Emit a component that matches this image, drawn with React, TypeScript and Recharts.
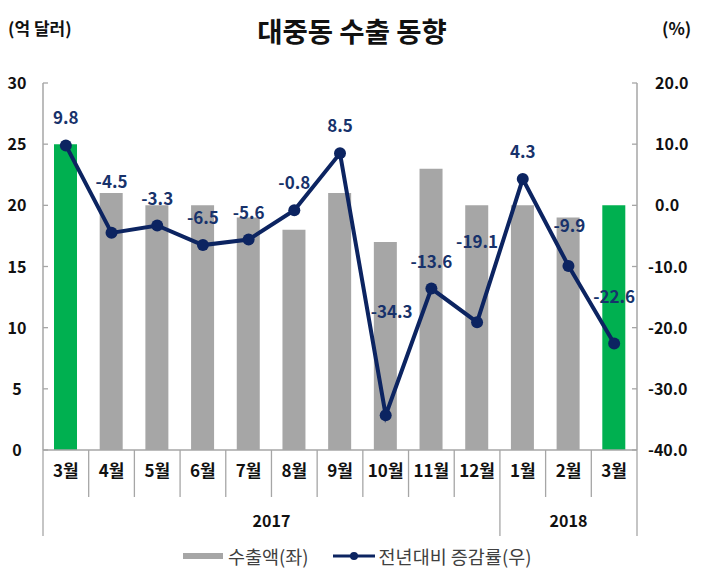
import { Bar, Cell, ComposedChart, LabelList, Line, XAxis, YAxis } from "recharts";

const months = ["3월", "4월", "5월", "6월", "7월", "8월", "9월", "10월", "11월", "12월", "1월", "2월", "3월"];
const yearLabels = ["2017", "2018"];
const yearSpans = [10, 3];
const exportValues = [25, 21, 20, 20, 19, 18, 21, 17, 23, 20, 20, 19, 20];
const growthRates = [9.8, -4.5, -3.3, -6.5, -5.6, -0.8, 8.5, -34.3, -13.6, -19.1, 4.3, -9.9, -22.6];
const highlighted = [0, 12];
const leftTicks = [0, 5, 10, 15, 20, 25, 30];
const rightTicks = [-40, -30, -20, -10, 0, 10, 20];

const data = months.map((month, i) => ({
  month,
  exports: exportValues[i],
  growth: growthRates[i],
}));

const FONT = "'Noto Sans CJK KR', 'Noto Sans', sans-serif";
const AXIS_GRAY = "#A6A6A6";
const BAR_GRAY = "#A6A6A6";
const GREEN = "#00B050";
const NAVY = "#0C2461";
const LABEL_NAVY = "#17326B";
const PLOT_LEFT = 43;
const PLOT_RIGHT = 637;
const STEP = (PLOT_RIGHT - PLOT_LEFT) / months.length;

// label nudges where the default "above" spot collides with the line
const labelNudge: Record<number, [number, number]> = {
  1: [0, -51],
  7: [6, -103],
  9: [0, -80],
  11: [1, -40],
  12: [0, -47],
};

function GrowthLabel(props: any) {
  const { x, y, value, index } = props;
  const [dx, dy] = labelNudge[index] ?? [0, -27];
  return (
    <text
      x={x + dx}
      y={y + dy}
      dy={6}
      textAnchor="middle"
      fontFamily={FONT}
      fontWeight={700}
      fontSize={17}
      fill={LABEL_NAVY}
    >
      {Number(value).toFixed(1)}
    </text>
  );
}

function MonthTick(props: any) {
  const { x, y, payload, index } = props;
  const left = x - STEP / 2;
  const yearStarts: number[] = [];
  yearSpans.reduce((acc, span) => {
    yearStarts.push(acc);
    return acc + span;
  }, 0);
  const yearIdx = yearStarts.indexOf(index);
  const isLast = index === months.length - 1;
  return (
    <g>
      <text
        x={x}
        y={y + 27}
        textAnchor="middle"
        fontFamily={FONT}
        fontWeight={700}
        fontSize={17}
        fill="#111"
      >
        {payload.value}
      </text>
      <line
        x1={left}
        x2={left}
        y1={y}
        y2={y + (yearIdx >= 0 ? 86 : 47)}
        stroke={AXIS_GRAY}
        strokeWidth={1.3}
      />
      {isLast && (
        <line x1={x + STEP / 2} x2={x + STEP / 2} y1={y} y2={y + 86} stroke={AXIS_GRAY} strokeWidth={1.3} />
      )}
      {yearIdx >= 0 && (
        <text
          x={left + (yearSpans[yearIdx] * STEP) / 2}
          y={y + 77}
          textAnchor="middle"
          fontFamily={FONT}
          fontWeight={700}
          fontSize={16}
          fill="#111"
        >
          {yearLabels[yearIdx]}
        </text>
      )}
    </g>
  );
}

function LeftTick(props: any) {
  const { y, payload } = props;
  return (
    <g>
      <line x1={PLOT_LEFT} x2={PLOT_LEFT + 5} y1={y} y2={y} stroke={AXIS_GRAY} strokeWidth={1.3} />
      <text x={17} y={y} dy={6} textAnchor="middle" fontFamily={FONT} fontWeight={700} fontSize={16} fill="#111">
        {payload.value}
      </text>
    </g>
  );
}

function RightTick(props: any) {
  const { y, payload } = props;
  const v = Number(payload.value);
  return (
    <g>
      <line x1={PLOT_RIGHT - 5} x2={PLOT_RIGHT} y1={y} y2={y} stroke={AXIS_GRAY} strokeWidth={1.3} />
      <text x={v < 0 ? 648 : 655} y={y} dy={6} textAnchor="start" fontFamily={FONT} fontWeight={700} fontSize={16} fill="#111">
        {v.toFixed(1)}
      </text>
    </g>
  );
}

export default function App() {
  return (
    <div
      style={{
        position: "absolute",
        top: 0,
        left: 0,
        width: 704,
        height: 572,
        background: "#fff",
        fontFamily: FONT,
      }}
    >
      <div style={{ position: "absolute", top: 15, left: 8, fontSize: 17, fontWeight: 700, color: "#111" }}>
        (억 달러)
      </div>
      <div
        style={{
          position: "absolute",
          top: 10,
          left: 0,
          width: 704,
          textAlign: "center",
          fontSize: 27.5,
          fontWeight: 700,
          color: "#111",
        }}
      >
        대중동 수출 동향
      </div>
      <div style={{ position: "absolute", top: 15, left: 662, fontSize: 17, fontWeight: 700, color: "#111" }}>
        (%)
      </div>

      <ComposedChart
        width={704}
        height={572}
        data={data}
        margin={{ top: 83, right: 0, bottom: 0, left: 0 }}
        style={{ position: "absolute", top: 0, left: 0 }}
      >
        <XAxis
          dataKey="month"
          interval={0}
          height={122}
          tickLine={false}
          tickSize={0}
          tickMargin={0}
          axisLine={{ stroke: AXIS_GRAY, strokeWidth: 1.3 }}
          tick={<MonthTick />}
        />
        <YAxis
          yAxisId="left"
          width={43}
          domain={[0, 30]}
          ticks={leftTicks}
          tickLine={false}
          axisLine={{ stroke: AXIS_GRAY, strokeWidth: 1.5 }}
          tick={<LeftTick />}
        />
        <YAxis
          yAxisId="right"
          orientation="right"
          width={67}
          domain={[-40, 20]}
          ticks={rightTicks}
          tickLine={false}
          axisLine={{ stroke: AXIS_GRAY, strokeWidth: 1.5 }}
          tick={<RightTick />}
        />
        <Bar dataKey="exports" yAxisId="left" barSize={23} isAnimationActive={false}>
          {data.map((_, i) => (
            <Cell key={i} fill={highlighted.includes(i) ? GREEN : BAR_GRAY} />
          ))}
        </Bar>
        <Line
          dataKey="growth"
          yAxisId="right"
          stroke={NAVY}
          strokeWidth={4}
          dot={{ r: 6, fill: NAVY, stroke: NAVY, strokeWidth: 0 }}
          isAnimationActive={false}
        >
          <LabelList dataKey="growth" content={<GrowthLabel />} />
        </Line>
      </ComposedChart>

      <div
        style={{
          position: "absolute",
          top: 543,
          left: 183,
          display: "flex",
          alignItems: "center",
          fontSize: 18.5,
          color: "#404040",
          whiteSpace: "nowrap",
        }}
      >
        <span style={{ display: "inline-block", width: 40, height: 6, background: BAR_GRAY, marginRight: 5 }} />
        <span>수출액(좌)</span>
        <svg width={44} height={14} style={{ marginLeft: 24, marginRight: 2 }}>
          <line x1={0} x2={42} y1={7} y2={7} stroke={NAVY} strokeWidth={3} />
          <circle cx={21} cy={7} r={4} fill={NAVY} />
        </svg>
        <span>전년대비 증감률(우)</span>
      </div>
    </div>
  );
}
